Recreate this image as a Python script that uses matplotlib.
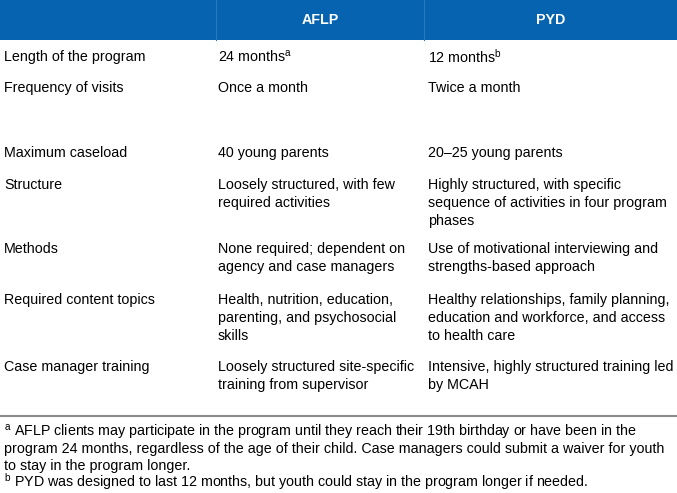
import matplotlib
matplotlib.use("Agg")
import matplotlib.pyplot as plt
from matplotlib.patches import Rectangle

plt.rcParams['font.family'] = ['Liberation Sans', 'DejaVu Sans']
plt.rcParams['mathtext.fontset'] = 'custom'
plt.rcParams['mathtext.rm'] = 'Liberation Sans'

# table content
headers = ["AFLP", "PYD"]
row_labels = ["Length of the program", "Frequency of visits", "Maximum caseload",
              "Structure", "Methods", "Required content topics", "Case manager training"]
aflp = ["24 months$^{\\mathrm{a}}$",
        "Once a month",
        "40 young parents",
        "Loosely structured, with few\nrequired activities",
        "None required; dependent on\nagency and case managers",
        "Health, nutrition, education,\nparenting, and psychosocial\nskills",
        "Loosely structured site-specific\ntraining from supervisor"]
pyd = ["12 months$^{\\mathrm{b}}$",
       "Twice a month",
       "20\u201325 young parents",
       "Highly structured, with specific\nsequence of activities in four program\nphases",
       "Use of motivational interviewing and\nstrengths-based approach",
       "Healthy relationships, family planning,\neducation and workforce, and access\nto health care",
       "Intensive, highly structured training led\nby MCAH"]
footnotes = ["$^{\\mathrm{a}}$ AFLP clients may participate in the program until they reach their 19th birthday or have been in the\n"
             "program 24 months, regardless of the age of their child. Case managers could submit a waiver for youth\n"
             "to stay in the program longer.",
             "$^{\\mathrm{b}}$ PYD was designed to last 12 months, but youth could stay in the program longer if needed."]

# layout (pixels)
W, H = 677, 493
col_x = [4, 218, 428]
col_edges = [216, 424]
row_y = [57, 88, 153, 185, 249, 300, 367]
foot_y = [432, 482]
line_h = 17.8
foot_h = 16.8
fs = 10.3
blue = '#0563B0'

fig = plt.figure(figsize=(W / 100, H / 100), dpi=100)
ax = fig.add_axes([0, 0, 1, 1])
ax.set_xlim(0, W)
ax.set_ylim(H, 0)
ax.axis('off')

# header band
ax.add_patch(Rectangle((0, 0), W, 40, color=blue, lw=0))
for xe in col_edges:
    ax.plot([xe, xe], [0, 40], color='#2c78bd', lw=0.8)
hdr_centers = [(col_edges[0] + col_edges[1]) / 2, (col_edges[1] + W) / 2]
for hc, h in zip(hdr_centers, headers):
    ax.text(hc, 20, h, color='white', fontsize=fs, fontweight='bold',
            ha='center', va='center')


def put(x, y, s, step=line_h):
    for i, line in enumerate(s.split('\n')):
        ax.text(x, y + i * step, line, fontsize=fs, color='black',
                ha='left', va='center')


for y, lab, a, p in zip(row_y, row_labels, aflp, pyd):
    put(col_x[0], y, lab)
    put(col_x[1], y, a)
    put(col_x[2], y, p)

# rule above footnotes
ax.plot([0, W], [416, 416], color='#8c8c8c', lw=1.5)

for y, note in zip(foot_y, footnotes):
    put(col_x[0], y, note, foot_h)

fig.savefig('out.png', dpi=100)
